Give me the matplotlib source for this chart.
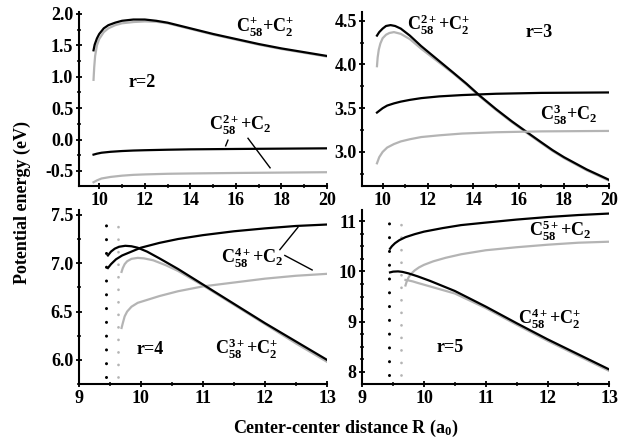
import matplotlib
matplotlib.use('Agg')
import matplotlib.pyplot as plt
from matplotlib.ticker import MultipleLocator

plt.rcParams['font.family'] = 'Liberation Serif'
plt.rcParams['font.weight'] = 'bold'
plt.rcParams['axes.unicode_minus'] = False
plt.rcParams['mathtext.fontset'] = 'custom'
plt.rcParams['mathtext.rm'] = 'Liberation Serif:bold'
plt.rcParams['mathtext.it'] = 'Liberation Serif:bold'
plt.rcParams['mathtext.bf'] = 'Liberation Serif:bold'

# r=2
r2_up_x_k = [9.75, 9.8, 9.9, 10.0, 10.2, 10.4, 10.7, 11.0, 11.5, 12.0, 12.5, 13.0, 14.0, 15.0, 16.0, 17.0, 18.0, 19.0, 20.0]
r2_up_y_k = [1.42, 1.51, 1.61, 1.68, 1.77, 1.82, 1.86, 1.89, 1.91, 1.91, 1.89, 1.86, 1.77, 1.68, 1.60, 1.52, 1.45, 1.39, 1.33]
r2_up_x_g = [9.75, 9.78, 9.82, 9.9, 10.0, 10.2, 10.4, 10.7, 11.0, 11.5, 12.0, 12.5, 13.0, 14.0, 15.0, 16.0, 17.0, 18.0, 19.0, 20.0]
r2_up_y_g = [0.95, 1.15, 1.33, 1.50, 1.60, 1.71, 1.77, 1.82, 1.85, 1.87, 1.88, 1.875, 1.85, 1.76, 1.67, 1.59, 1.51, 1.44, 1.38, 1.32]
r2_lo_x = [9.75, 9.9, 10.1, 10.5, 11.0, 11.5, 12.0, 13.0, 14.0, 16.0, 18.0, 20.0]
r2_lo_y_k = [-0.24, -0.225, -0.21, -0.195, -0.183, -0.175, -0.17, -0.162, -0.156, -0.15, -0.145, -0.14]
r2_lo_y_g = [-0.68, -0.65, -0.62, -0.595, -0.575, -0.562, -0.555, -0.545, -0.54, -0.532, -0.526, -0.52]

# r=3
r3_up_x_k = [9.75, 9.85, 10.0, 10.15, 10.35, 10.55, 10.8, 11.2, 11.7, 12.4, 13.1, 13.7, 14.3, 15.0, 15.7, 16.4, 17.0, 17.5, 18.0, 18.5, 19.0, 19.5, 20.0]
r3_up_y_k = [4.33, 4.37, 4.41, 4.44, 4.45, 4.44, 4.41, 4.33, 4.21, 4.06, 3.91, 3.78, 3.64, 3.49, 3.35, 3.22, 3.11, 3.02, 2.94, 2.87, 2.80, 2.74, 2.68]
r3_up_x_g = [9.75, 9.78, 9.83, 9.9, 10.0, 10.15, 10.3, 10.5, 10.8, 11.2, 11.7, 12.4, 13.1, 13.7, 14.3, 15.0, 15.7, 16.4, 17.0, 17.5, 18.0, 18.5, 19.0, 19.5, 20.0]
r3_up_y_g = [3.98, 4.08, 4.17, 4.24, 4.30, 4.34, 4.36, 4.37, 4.35, 4.29, 4.18, 4.04, 3.90, 3.77, 3.63, 3.48, 3.34, 3.21, 3.10, 3.01, 2.93, 2.86, 2.79, 2.73, 2.67]
r3_fl_x = [9.75, 9.85, 10.0, 10.2, 10.5, 10.8, 11.2, 11.7, 12.5, 13.5, 15.0, 17.0, 20.0]
r3_fl_y_k = [3.45, 3.47, 3.50, 3.53, 3.555, 3.575, 3.595, 3.615, 3.635, 3.65, 3.665, 3.675, 3.68]
r3_fl_y_g = [2.87, 2.94, 3.00, 3.05, 3.09, 3.12, 3.145, 3.17, 3.19, 3.21, 3.225, 3.235, 3.24]

# r=4
r4_fl_x_k = [9.47, 9.52, 9.6, 9.7, 9.85, 10.0, 10.3, 10.6, 11.0, 11.5, 12.0, 12.5, 13.0]
r4_fl_y_k = [6.95, 6.99, 7.04, 7.08, 7.12, 7.16, 7.21, 7.25, 7.29, 7.33, 7.36, 7.385, 7.40]
r4_cr_x_k = [9.47, 9.52, 9.58, 9.65, 9.75, 9.85, 9.95, 10.1, 10.3, 10.6, 11.0, 11.5, 12.0, 12.5, 13.0]
r4_cr_y_k = [7.08, 7.12, 7.15, 7.17, 7.18, 7.175, 7.16, 7.12, 7.05, 6.94, 6.78, 6.58, 6.38, 6.19, 6.00]
r4_fl_x_g = [9.69, 9.71, 9.74, 9.78, 9.85, 9.95, 10.1, 10.3, 10.6, 11.0, 11.5, 12.0, 12.5, 13.0]
r4_fl_y_g = [6.33, 6.38, 6.45, 6.50, 6.55, 6.59, 6.62, 6.66, 6.71, 6.76, 6.80, 6.84, 6.87, 6.89]
r4_cr_x_g = [9.69, 9.71, 9.74, 9.78, 9.85, 9.95, 10.05, 10.2, 10.4, 10.6, 11.0, 11.5, 12.0, 12.5, 13.0]
r4_cr_y_g = [6.91, 6.95, 6.99, 7.02, 7.045, 7.055, 7.05, 7.03, 6.98, 6.92, 6.77, 6.57, 6.37, 6.17, 5.98]

# r=5
r5_fl_x_k = [9.45, 9.48, 9.53, 9.6, 9.7, 9.85, 10.0, 10.3, 10.6, 11.0, 11.5, 12.0, 12.5, 13.0]
r5_fl_y_k = [10.45, 10.50, 10.56, 10.62, 10.68, 10.74, 10.79, 10.86, 10.92, 10.97, 11.03, 11.08, 11.12, 11.15]
r5_cr_x_k = [9.45, 9.5, 9.58, 9.65, 9.75, 9.9, 10.1, 10.5, 11.0, 11.5, 12.0, 12.5, 13.0]
r5_cr_y_k = [9.98, 9.995, 10.0, 9.99, 9.96, 9.90, 9.81, 9.61, 9.30, 8.97, 8.65, 8.35, 8.05]
r5_fl_x_g = [9.70, 9.72, 9.75, 9.79, 9.85, 9.92, 10.0, 10.15, 10.35, 10.6, 11.0, 11.5, 12.0, 12.5, 13.0]
r5_fl_y_g = [9.72, 9.80, 9.88, 9.95, 10.02, 10.08, 10.13, 10.20, 10.27, 10.34, 10.42, 10.48, 10.53, 10.57, 10.59]
r5_cr_x_g = [9.70, 9.75, 9.82, 9.9, 10.1, 10.5, 11.0, 11.5, 12.0, 12.5, 13.0]
r5_cr_y_g = [9.83, 9.82, 9.80, 9.77, 9.70, 9.56, 9.27, 8.94, 8.62, 8.32, 8.02]

# vertical dotted markers (black x, gray x, y from, y to)
r4_dots = [9.44, 9.63, 5.82, 7.42]
r5_dots = [9.44, 9.63, 7.94, 11.06]

BLACK = 'black'
GRAY = '#b4b4b4'
LW = 1.6
DOTS = (0, (0.01, 4.5))

fig = plt.figure(figsize=(6.4, 4.44), dpi=100)
ax1 = fig.add_axes([0.123, 0.581, 0.388, 0.392])
ax2 = fig.add_axes([0.566, 0.581, 0.386, 0.392])
ax3 = fig.add_axes([0.123, 0.135, 0.388, 0.392])
ax4 = fig.add_axes([0.566, 0.135, 0.386, 0.392])


def lbl(s, x, y, ax):
    ax.text(x, y, s, fontsize=13, ha='center', va='center')


# panel r=2
ax1.plot(r2_up_x_g, r2_up_y_g, color=GRAY, lw=LW)
ax1.plot(r2_up_x_k, r2_up_y_k, color=BLACK, lw=LW)
ax1.plot(r2_lo_x, r2_lo_y_g, color=GRAY, lw=LW)
ax1.plot(r2_lo_x, r2_lo_y_k, color=BLACK, lw=LW)
ax1.set_xlim(9.1, 20)
ax1.set_ylim(-0.74, 2.03)
ax1.xaxis.set_major_locator(MultipleLocator(2))
ax1.xaxis.set_minor_locator(MultipleLocator(1))
ax1.yaxis.set_major_locator(MultipleLocator(0.5))
ax1.yaxis.set_minor_locator(MultipleLocator(0.25))
lbl(r'$\mathrm{C_{58}^{+}{+}C_{2}^{+}}$', 17.3, 1.78, ax1)
lbl('r=2', 11.9, 0.91, ax1)
lbl(r'$\mathrm{C_{58}^{2+}{+}C_{2}}$', 16.2, 0.23, ax1)
ax1.plot([15.65, 15.55], [-0.01, -0.10], color=BLACK, lw=1)
ax1.plot([16.53, 17.5], [0.02, -0.45], color=BLACK, lw=1)

# panel r=3
ax2.plot(r3_up_x_g, r3_up_y_g, color=GRAY, lw=LW)
ax2.plot(r3_up_x_k, r3_up_y_k, color=BLACK, lw=LW)
ax2.plot(r3_fl_x, r3_fl_y_g, color=GRAY, lw=LW)
ax2.plot(r3_fl_x, r3_fl_y_k, color=BLACK, lw=LW)
ax2.set_xlim(9.1, 20)
ax2.set_ylim(2.61, 4.6)
ax2.xaxis.set_major_locator(MultipleLocator(2))
ax2.xaxis.set_minor_locator(MultipleLocator(1))
ax2.yaxis.set_major_locator(MultipleLocator(0.5))
ax2.yaxis.set_minor_locator(MultipleLocator(0.25))
lbl(r'$\mathrm{C_{58}^{2+}{+}C_{2}^{+}}$', 12.45, 4.45, ax2)
lbl('r=3', 16.9, 4.37, ax2)
lbl(r'$\mathrm{C_{58}^{3}{+}C_{2}}$', 18.2, 3.43, ax2)

# panel r=4
ax3.plot([r4_dots[0]] * 2, r4_dots[2:], color=BLACK, lw=2.2, linestyle=DOTS, dash_capstyle='round')
ax3.plot([r4_dots[1]] * 2, r4_dots[2:], color=GRAY, lw=2.0, linestyle=DOTS, dash_capstyle='round')
ax3.plot(r4_fl_x_g, r4_fl_y_g, color=GRAY, lw=LW)
ax3.plot(r4_cr_x_g, r4_cr_y_g, color=GRAY, lw=LW)
ax3.plot(r4_fl_x_k, r4_fl_y_k, color=BLACK, lw=LW)
ax3.plot(r4_cr_x_k, r4_cr_y_k, color=BLACK, lw=LW)
ax3.set_xlim(9, 13)
ax3.set_ylim(5.75, 7.55)
ax3.xaxis.set_major_locator(MultipleLocator(1))
ax3.xaxis.set_minor_locator(MultipleLocator(0.5))
ax3.yaxis.set_major_locator(MultipleLocator(0.5))
ax3.yaxis.set_minor_locator(MultipleLocator(0.25))
lbl(r'$\mathrm{C_{58}^{4+}{+}C_{2}}$', 11.8, 7.06, ax3)
ax3.plot([12.24, 12.53], [7.14, 7.37], color=BLACK, lw=1)
ax3.plot([12.32, 12.76], [7.08, 6.93], color=BLACK, lw=1)
lbl(r'$\mathrm{C_{58}^{3+}{+}C_{2}^{+}}$', 11.7, 6.11, ax3)
lbl('r=4', 10.15, 6.11, ax3)

# panel r=5
ax4.plot([r5_dots[0]] * 2, r5_dots[2:], color=BLACK, lw=2.2, linestyle=DOTS, dash_capstyle='round')
ax4.plot([r5_dots[1]] * 2, r5_dots[2:], color=GRAY, lw=2.0, linestyle=DOTS, dash_capstyle='round')
ax4.plot(r5_fl_x_g, r5_fl_y_g, color=GRAY, lw=LW)
ax4.plot(r5_cr_x_g, r5_cr_y_g, color=GRAY, lw=LW)
ax4.plot(r5_fl_x_k, r5_fl_y_k, color=BLACK, lw=LW)
ax4.plot(r5_cr_x_k, r5_cr_y_k, color=BLACK, lw=LW)
ax4.set_xlim(9, 13)
ax4.set_ylim(7.76, 11.22)
ax4.xaxis.set_major_locator(MultipleLocator(1))
ax4.xaxis.set_minor_locator(MultipleLocator(0.5))
ax4.yaxis.set_major_locator(MultipleLocator(1))
ax4.yaxis.set_minor_locator(MultipleLocator(0.25))
lbl(r'$\mathrm{C_{58}^{5+}{+}C_{2}}$', 12.2, 10.8, ax4)
lbl(r'$\mathrm{C_{58}^{4+}{+}C_{2}^{+}}$', 12.04, 9.05, ax4)
lbl('r=5', 10.42, 8.48, ax4)

for ax in (ax1, ax2, ax3, ax4):
    ax.spines['top'].set_visible(False)
    ax.spines['right'].set_visible(False)
    ax.spines['left'].set_linewidth(1.5)
    ax.spines['bottom'].set_linewidth(1.5)
    ax.tick_params(which='major', direction='inout', length=5, width=1.3, labelsize=13, pad=1.5)
    ax.tick_params(which='minor', direction='inout', length=3.5, width=1.1)

fig.text(0.035, 0.545, 'Potential energy (eV)', rotation=90, ha='center', va='center',
         fontsize=13, fontweight='bold')
fig.text(0.54, 0.035, r'Center-center distance R (a$\mathrm{_{0}}$)', ha='center', va='center',
         fontsize=13, fontweight='bold')

# draw once so all tick labels exist, then make them bold
fig.canvas.draw()
for ax in (ax1, ax2, ax3, ax4):
    for lab in ax.get_xticklabels() + ax.get_yticklabels():
        lab.set_fontweight('bold')

fig.savefig('out.png', dpi=100)
